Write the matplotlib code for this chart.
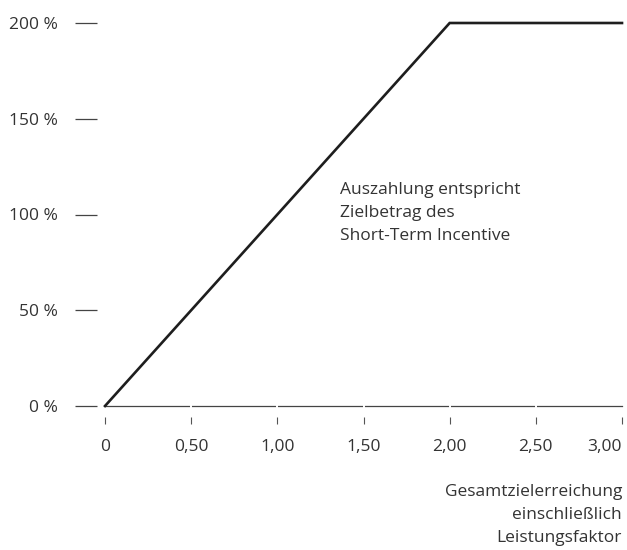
import matplotlib
matplotlib.use("Agg")
import matplotlib.pyplot as plt

# Auszahlungskurve: Gesamtzielerreichung -> Auszahlung in %
zielerreichung = [0.0, 2.0, 3.0]
auszahlung = [0, 200, 200]

x_ticks = [0, 0.5, 1.0, 1.5, 2.0, 2.5, 3.0]
x_labels = ["0", "0,50", "1,00", "1,50", "2,00", "2,50", "3,00"]
y_ticks = [0, 50, 100, 150, 200]
y_labels = ["0 %", "50 %", "100 %", "150 %", "200 %"]

annotation = "Auszahlung entspricht\nZielbetrag des\nShort-Term Incentive"
x_title = "Gesamtzielerreichung\neinschließlich\nLeistungsfaktor"

plt.rcParams["font.family"] = ["Open Sans", "DejaVu Sans"]
text_color = "#333333"
fs = 12.5

fig = plt.figure(figsize=(6.27, 5.5), dpi=100)
ax = fig.add_axes([105 / 627, 144 / 550, 517 / 627, 383 / 550])

ax.plot(zielerreichung, auszahlung, color="#1e1e1e", linewidth=1.9,
        solid_joinstyle="miter", clip_on=False, zorder=3)

ax.set_xlim(0, 3)
ax.set_ylim(0, 200)

# x-Achse als dünne Linie mit kleinen Lücken an den Ticks
ax.axhline(0, color="#444444", linewidth=0.9, zorder=2, clip_on=False)
ax.plot(x_ticks[1:-1], [0] * (len(x_ticks) - 2), linestyle="none", marker="|",
        markersize=3, markeredgewidth=1.4, color="white", zorder=2.5, clip_on=False)

for side in ["top", "right", "left", "bottom"]:
    ax.spines[side].set_visible(False)
ax.spines["left"].set_position(("outward", 6))
ax.spines["bottom"].set_position(("outward", 8))

ax.set_yticks(y_ticks)
ax.set_yticklabels(y_labels)
ax.tick_params(axis="y", length=16, width=0.9, color="#444444", pad=12,
               labelsize=fs, labelcolor=text_color)

ax.set_xticks(x_ticks)
ax.set_xticklabels(x_labels)
ax.tick_params(axis="x", length=5, width=0.8, color="#555555", pad=11,
               labelsize=fs, labelcolor=text_color)
ax.get_xticklabels()[-1].set_horizontalalignment("right")

ax.text(1.362, 100.8, annotation, ha="left", va="center", fontsize=fs,
        color=text_color, linespacing=1.6)

fig.text(622 / 627, 66 / 550, x_title, ha="right", va="top",
         fontsize=fs, color=text_color, linespacing=1.6, multialignment="right")

fig.savefig("out.png", dpi=100)
